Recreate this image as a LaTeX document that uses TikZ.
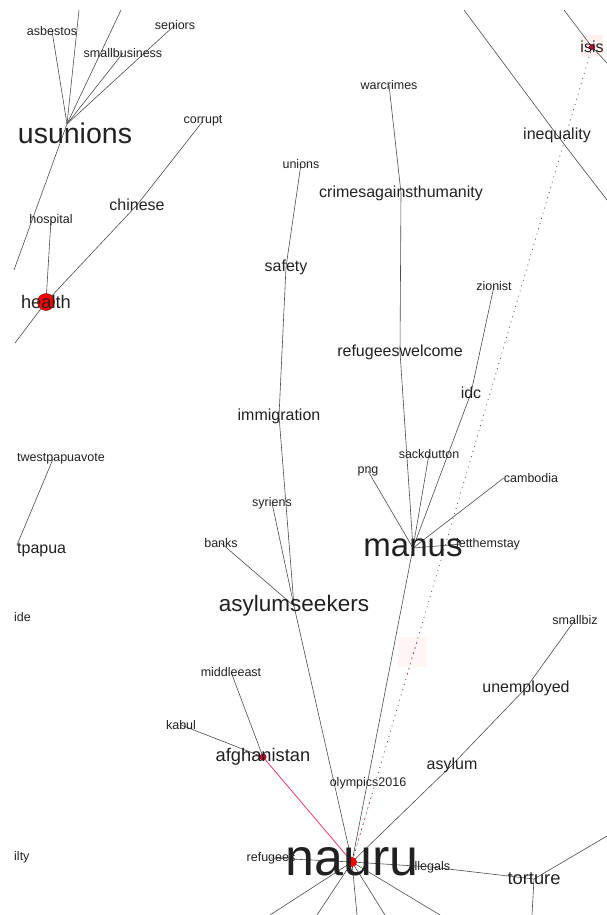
\documentclass[tikz,border=0pt]{standalone}
\usepackage{fontspec}
\setmainfont{Liberation Sans}
\usetikzlibrary{calc}
\pgfdeclarelayer{background}
\pgfsetlayers{background,main}
\definecolor{inkgray}{gray}{0.13}
\definecolor{edgegray}{gray}{0.3}
\definecolor{hotpink}{RGB}{236,58,108}
\definecolor{crimson}{RGB}{200,0,48}
\tikzset{%
  % Specifications for style of words:
         word/.style = {inner sep=0pt, text=inkgray},
        small/.style = {word, font=\fontsize{12.5}{14}\selectfont},
       medium/.style = {word, font=\fontsize{16}{18}\selectfont},
        large/.style = {word, font=\fontsize{18.3}{21}\selectfont},
  % Specifications for style of links:
         link/.style = {draw=edgegray, line width=0.6pt},
      redlink/.style = {draw=hotpink, line width=0.8pt},
     weaklink/.style = {draw=edgegray, line width=0.8pt,
                        dash pattern=on 0.9pt off 4.5pt},
        }

\begin{document}
\begin{tikzpicture}[x=1pt, y=-1pt]
  \useasboundingbox (0,0) rectangle (607,915);
  % Specification of words (position, etc.)
  \node (usunions)      [word, font=\fontsize{28.5}{32}\selectfont] at (75,133) {usunions};
  \node (asbestos)      [small] at (52,31)   {asbestos};
  \node (smallbusiness) [small] at (123,53)  {smallbusiness};
  \node (seniors)       [small] at (175,25)  {seniors};
  \node (corrupt)       [small] at (203,121) {corrupt};
  \node (chinese)       [medium] at (137,205) {chinese};
  \node (hospital)      [small] at (51,220)  {hospital};
  \node (health)        [large] at (46,302)  {health};

  \node (isis)          [medium] at (592,47)  {isis};
  \node (inequality)    [medium] at (557,135) {inequality};
  \node (warcrimes)     [small] at (389,85)  {warcrimes};
  \node (crimes)        [medium] at (401,193) {crimesagainsthumanity};
  \node (unions)        [small] at (301,164) {unions};
  \node (safety)        [medium] at (286,267) {safety};
  \node (zionist)       [small] at (494,286) {zionist};
  \node (welcome)       [medium] at (400,352) {refugeeswelcome};
  \node (idc)           [medium] at (471,393) {idc};
  \node (immigration)   [medium] at (279,416) {immigration};

  \node (sackdutton)    [small] at (429,454) {sackdutton};
  \node (png)           [small] at (368,471) {png};
  \node (cambodia)      [small] at (531,478) {cambodia};
  \node (letthemstay)   [small] at (488,544) {letthemstay};
  \node (manus)         [word, font=\fontsize{33}{36}\selectfont] at (413,548) {manus};
  \node (syriens)       [small] at (272,503) {syriens};
  \node (banks)         [small] at (221,543) {banks};
  \node (asylumseekers) [word, font=\fontsize{22.5}{26}\selectfont] at (294,606) {asylumseekers};

  \node (twestpapuavote)[small, anchor=west]  at (17,459) {twestpapuavote};
  \node (tpapua)        [medium, anchor=west] at (17,550) {tpapua};
  \node (ide)           [small, anchor=west]  at (14,617) {ide};
  \node (ilty)          [small, anchor=west]  at (14,857) {ilty};

  \node (smallbiz)      [small] at (575,620) {smallbiz};
  \node (unemployed)    [medium] at (526,688) {unemployed};
  \node (asylum)        [medium] at (452,765) {asylum};
  \node (middleeast)    [small] at (231,672) {middleeast};
  \node (kabul)         [small] at (181,725) {kabul};
  \node (afghanistan)   [large] at (263,757) {afghanistan};
  \node (olympics)      [small] at (368,783) {olympics2016};
  \node (refugees)      [small] at (271,858) {refugees};
  \node (illegals)      [small] at (431,867) {illegals};
  \node (nauru)         [word, font=\fontsize{52}{56}\selectfont] at (352,862) {nauru};
  \node (torture)       [large] at (534,879) {torture};

  % Ends of links that leave the frame
  \coordinate (usHub)   at (67,124);
  \coordinate (usTopA)  at (79,10);
  \coordinate (usTopB)  at (121,10);
  \coordinate (usLeft)  at (14,270);
  \coordinate (hLeft)   at (15,343);
  \coordinate (isTop)   at (564,10);
  \coordinate (isRight) at (607,63);
  \coordinate (inTop)   at (464,10);
  \coordinate (inRight) at (607,200);
  \coordinate (toRight) at (607,836);
  \coordinate (toDown)  at (532,915);
  \coordinate (naA)     at (270,915);
  \coordinate (naB)     at (317,915);
  \coordinate (naC)     at (357,915);
  \coordinate (naD)     at (385,915);
  \coordinate (naE)     at (440,915);

  % Specification of links between words, behind the words
  \begin{pgfonlayer}{background}
    % faint highlights
    \fill[red!6] (581,35) rectangle (603,57);
    \fill[red!4] (398,637) rectangle (427,667);

    \draw[link] (usHub) -- (usTopA);
    \draw[link] (usHub) -- (usTopB);
    \draw[link] (usHub) -- (asbestos.center);
    \draw[link] (usHub) -- (smallbusiness.center);
    \draw[link] (usHub) -- (seniors.center);
    \draw[link] (usHub) -- (usLeft);

    \draw[link] (health.center) -- (hospital.center);
    \draw[link] (hLeft) -- (health.center) -- (chinese.center) -- (corrupt.center);

    \draw[link] (isTop) -- (isis.center) -- (isRight);
    \draw[link] (inTop) -- (inequality.center) -- (inRight);
    \draw[weaklink] (isis.center) -- (nauru.center);
    \draw[weaklink, draw=hotpink] ($(isis.center)!0.73!(nauru.center)$) -- ($(isis.center)!0.77!(nauru.center)$);
    \draw[weaklink, draw=hotpink] ($(isis.center)!0.92!(nauru.center)$) -- (nauru.center);

    \draw[link] (warcrimes.center) -- (crimes.center) -- (welcome.center) -- (manus.center);
    \draw[link] (unions.center) -- (safety.center) -- (immigration.center)
                -- (asylumseekers.center) -- (nauru.center);
    \draw[link] (syriens.center) -- (asylumseekers.center);
    \draw[link] (banks.center) -- (asylumseekers.center);

    \draw[link] (zionist.center) -- (idc.center) -- (manus.center);
    \draw[link] (sackdutton.center) -- (manus.center);
    \draw[link] (png.center) -- (manus.center);
    \draw[link] (cambodia.west) -- (manus.center);
    \draw[link] ([xshift=6pt]letthemstay.west) -- (manus.center);
    \draw[link] (manus.center) -- (nauru.center);

    \draw[link] ([xshift=36pt]twestpapuavote.west) -- ([yshift=5pt]tpapua.west);

    \draw[link] (middleeast.center) -- (afghanistan.center);
    \draw[link] (kabul.center) -- (afghanistan.center);
    \draw[redlink] (afghanistan.center) -- (nauru.center);

    \draw[link] (refugees.center) -- (nauru.center);
    \draw[link] (nauru.center) -- (illegals.center) -- (torture.center);
    \draw[link] (nauru.center) -- (asylum.center) -- (unemployed.center) -- (smallbiz.center);
    \draw[link] (toRight) -- (torture.center) -- (toDown);
    \draw[link] (nauru.center) -- (naA);
    \draw[link] (nauru.center) -- (naB);
    \draw[link] (nauru.center) -- (naC);
    \draw[link] (nauru.center) -- (naD);
    \draw[link] (nauru.center) -- (naE);

    % coloured vertices
    \filldraw[fill=red, draw=red!60!black, line width=0.4pt] (health.center) circle (8.5);
    \fill[red] (nauru.center) circle (5);
    \fill[crimson] (afghanistan.center) circle (3.5);
    \fill[crimson] (isis.center) circle (3);
  \end{pgfonlayer}
\end{tikzpicture}
\end{document}
